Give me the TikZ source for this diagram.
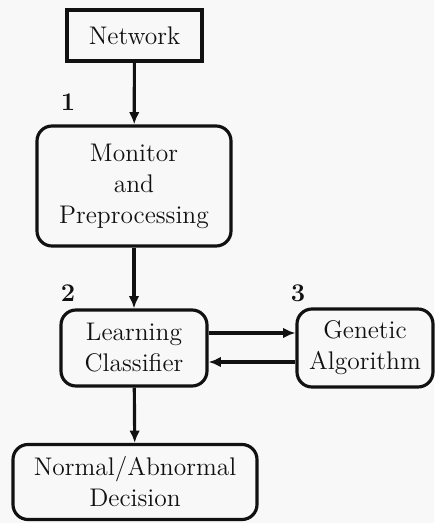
\documentclass[tikz,border=0pt]{standalone}
\usepackage{tikz}
\usetikzlibrary{arrows.meta,positioning}
\definecolor{idsInk}{HTML}{111111}
\definecolor{idsPaper}{HTML}{F8F8F8}
\begin{document}
\begin{tikzpicture}[
  box/.style={draw=idsInk, line width=1.8pt, rounded corners=0.3cm, align=center,
    inner sep=2pt, font=\fontsize{14.5}{17.6}\selectfont, text=idsInk},
  plainbox/.style={box, rounded corners=0pt},
  arrow/.style={-{Latex[length=7pt,width=6pt]}, line width=1.8pt, draw=idsInk},
  steplabel/.style={font=\fontsize{14.5}{17.6}\selectfont\bfseries, text=idsInk}
]
\fill[idsPaper] (0,0) rectangle (8.68,-10.46);
\useasboundingbox (0,0) rectangle (8.68,-10.46);
\node[plainbox, minimum width=2.7cm, minimum height=1.02cm] (net) at (2.69,-0.71) {Network};
\node[box, minimum width=3.88cm, minimum height=2.4cm] (mon) at (2.68,-3.72)
  {Monitor\\and\\Preprocessing};
\node[box, minimum width=2.92cm, minimum height=1.52cm] (lc) at (2.68,-6.96)
  {Learning\\Classifier};
\node[box, minimum width=2.72cm, minimum height=1.56cm] (ga) at (7.30,-6.96)
  {Genetic\\Algorithm};
\node[box, minimum width=4.88cm, minimum height=1.5cm] (dec) at (2.70,-9.64)
  {Normal/Abnormal\\Decision};
\node[steplabel] (s1) at (1.36,-2.04) {1};
\node[steplabel] (s2) at (1.36,-5.86) {2};
\node[steplabel] (s3) at (5.96,-5.86) {3};
\draw[arrow] (net) -- (mon);
\draw[arrow] (mon) -- (lc);
\draw[arrow] (lc) -- (dec);
\draw[arrow] ([yshift=0.3cm]lc.east) -- ([yshift=0.3cm]ga.west);
\draw[arrow] ([yshift=-0.28cm]ga.west) -- ([yshift=-0.28cm]lc.east);
\end{tikzpicture}
\end{document}
